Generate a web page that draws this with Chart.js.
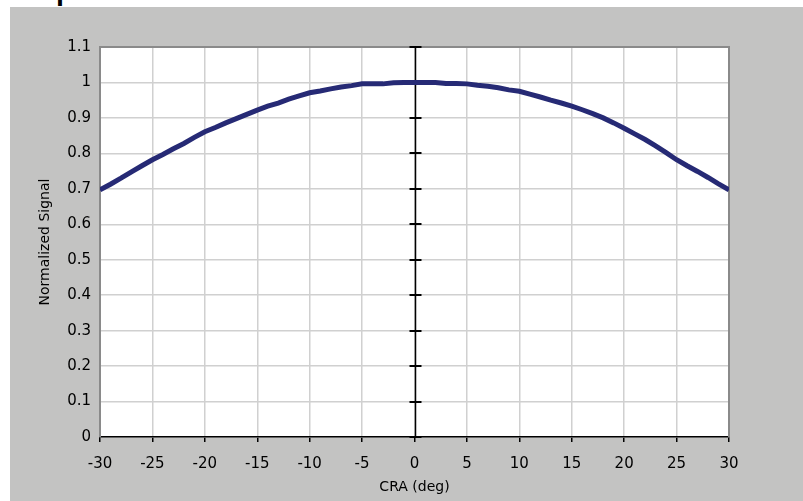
<!DOCTYPE html>
<html>
<head>
<meta charset="utf-8">
<script src="https://cdn.jsdelivr.net/npm/chart.js@4.4.1/dist/chart.umd.min.js"></script>
<style>
  html, body { margin: 0; padding: 0; background: #fff; width: 803px; height: 501px; overflow: hidden; }
  #title { position: absolute; left: 56px; top: -28px; font: bold 26px "Open Sans", sans-serif; color: #000; z-index: 0; }
  #panel { position: absolute; left: 10px; top: 7px; width: 793px; height: 494px; background: #c3c3c2; z-index: 1; }
</style>
</head>
<body>
<div id="title">p</div>
<div id="panel"><canvas id="craChart" width="793" height="494"></canvas></div>
<script>
// CRA angle (deg) and normalized signal
const craDeg = [
  -30, -29, -28, -27, -26, -25, -24, -23, -22, -21, -20, -19, -18, -17, -16, -15,
  -14, -13, -12, -11, -10, -9, -8, -7, -6, -5, -4, -3, -2, -1, 0,
  1, 2, 3, 4, 5, 6, 7, 8, 9, 10, 11, 12, 13, 14, 15,
  16, 17, 18, 19, 20, 21, 22, 23, 24, 25, 26, 27, 28, 29, 30
];
const signal = [
  0.697, 0.713, 0.730, 0.748, 0.765, 0.782, 0.797, 0.813, 0.828, 0.845, 0.861, 0.873, 0.886, 0.898, 0.910, 0.922,
  0.933, 0.942, 0.953, 0.962, 0.971, 0.976, 0.982, 0.987, 0.991, 0.996, 0.996, 0.996, 0.999, 1.000, 1.000,
  1.000, 1.000, 0.997, 0.997, 0.996, 0.992, 0.989, 0.985, 0.979, 0.975, 0.967, 0.959, 0.950, 0.942, 0.933,
  0.923, 0.912, 0.900, 0.886, 0.871, 0.855, 0.839, 0.821, 0.802, 0.782, 0.765, 0.749, 0.732, 0.714, 0.697
];
const xTickLabels = ["-30", "-25", "-20", "-15", "-10", "-5", "0", "5", "10", "15", "20", "25", "30"];
const yTickLabels = ["0", "0.1", "0.2", "0.3", "0.4", "0.5", "0.6", "0.7", "0.8", "0.9", "1", "1.1"];

const FAMILY = "'DejaVu Sans', sans-serif";

/* ---------- plot area: white fill, grey frame, centre axis ---------- */
const plotFrame = {
  id: "plotFrame",
  beforeDraw(chart) {
    const { ctx, chartArea: a } = chart;
    ctx.save();
    ctx.fillStyle = "#fff";
    ctx.fillRect(a.left, a.top, a.right - a.left, a.bottom - a.top);
    ctx.restore();
  },
  beforeDatasetsDraw(chart) {
    const { ctx, chartArea: a, scales } = chart;
    ctx.save();
    ctx.strokeStyle = "#8a8a8a";
    ctx.lineWidth = 2;
    ctx.beginPath();
    ctx.moveTo(a.left, a.bottom);
    ctx.lineTo(a.left, a.top);
    ctx.lineTo(a.right, a.top);
    ctx.lineTo(a.right, a.bottom);
    ctx.stroke();

    // vertical axis through x = 0 with crossing tick marks
    const x0 = Math.round(scales.x.getPixelForValue(0)) + 0.5;
    ctx.strokeStyle = "#000";
    ctx.lineWidth = 1.5;
    ctx.beginPath();
    ctx.moveTo(x0, a.top);
    ctx.lineTo(x0, a.bottom);
    ctx.stroke();
    ctx.lineWidth = 2;
    scales.y.ticks.forEach(t => {
      const py = Math.round(scales.y.getPixelForValue(t.value));
      ctx.beginPath();
      ctx.moveTo(x0 - 6, py);
      ctx.lineTo(x0 + 6, py);
      ctx.stroke();
    });
    ctx.restore();
  }
};

const ctx = document.getElementById("craChart").getContext("2d");
new Chart(ctx, {
  type: "line",
  data: {
    datasets: [{
      data: craDeg.map((d, i) => ({ x: d, y: signal[i] })),
      borderColor: "#262a75",
      borderWidth: 5,
      tension: 0,
      pointRadius: 0,
      fill: false
    }]
  },
  options: {
    responsive: false,
    animation: false,
    layout: { padding: { top: 40, right: 74, left: 0, bottom: 0 } },
    plugins: { legend: { display: false }, tooltip: { enabled: false } },
    scales: {
      x: {
        type: "linear",
        min: -30,
        max: 30,
        afterFit: s => { s.height = 64; },
        afterBuildTicks: s => { s.ticks = xTickLabels.map(Number).map(v => ({ value: v })); },
        grid: { color: "#d0d0d0", lineWidth: 1.5, tickColor: "#000", tickLength: 5, tickWidth: 1.5 },
        border: { color: "#000", width: 1.5 },
        ticks: {
          color: "#000",
          font: { family: FAMILY, size: 15 },
          padding: 13,
          maxRotation: 0,
          callback: (v) => xTickLabels[xTickLabels.indexOf(String(v))] ?? ""
        },
        title: {
          display: true,
          text: "CRA (deg)",
          color: "#000",
          font: { family: FAMILY, size: 14 },
          padding: { top: 0, bottom: 5 }
        }
      },
      y: {
        min: 0,
        max: 1.1,
        afterFit: s => { s.width = 90; },
        afterBuildTicks: s => { s.ticks = yTickLabels.map(Number).map(v => ({ value: v })); },
        grid: { color: "#d0d0d0", lineWidth: 1.5, drawTicks: false },
        border: { display: false },
        ticks: {
          color: "#000",
          font: { family: FAMILY, size: 15 },
          padding: 9,
          callback: (v) => yTickLabels[Math.round(v * 10)]
        },
        title: {
          display: true,
          text: "Normalized Signal",
          color: "#000",
          font: { family: FAMILY, size: 14 },
          padding: { top: 27, bottom: 0 }
        }
      }
    }
  },
  plugins: [plotFrame]
});
</script>
</body>
</html>
